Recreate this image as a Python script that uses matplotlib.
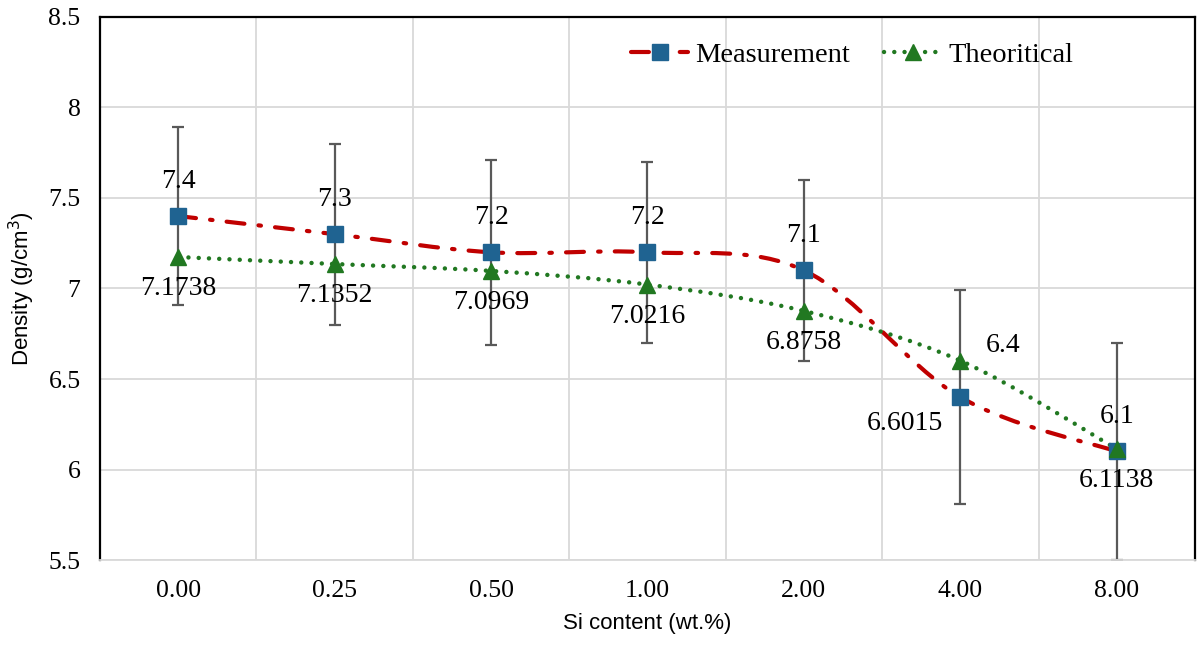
import numpy as np
import matplotlib
matplotlib.use("Agg")
import matplotlib.pyplot as plt
from matplotlib.path import Path
from matplotlib.patches import PathPatch
from matplotlib.lines import Line2D

## chart data
si_labels = ["0.00", "0.25", "0.50", "1.00", "2.00", "4.00", "8.00"]
measured = [7.4, 7.3, 7.2, 7.2, 7.1, 6.4, 6.1]
measured_err = [0.49, 0.5, 0.51, 0.5, 0.5, 0.59, 0.6]
theoretical = [7.1738, 7.1352, 7.0969, 7.0216, 6.8758, 6.6015, 6.1138]
y_ticks = [5.5, 6, 6.5, 7, 7.5, 8, 8.5]
y_ticklabels = ["5.5", "6", "6.5", "7", "7.5", "8", "8.5"]

red = "#C00000"
blue = "#1F6391"
green = "#217821"
serif = "Liberation Serif"
sans = "Liberation Sans"
dashdot = (0, (4.3, 3.4, 0.6, 3.4))
dots = (0, (0.01, 2.3))


## excel style smoothed line as bezier path
def smooth_path(xs, ys):
    pts = np.column_stack([xs, ys]).astype(float)
    verts = [pts[0]]
    codes = [Path.MOVETO]
    n = len(pts)
    for i in range(n - 1):
        p0 = pts[max(i - 1, 0)]
        p1 = pts[i]
        p2 = pts[i + 1]
        p3 = pts[min(i + 2, n - 1)]
        c1 = p1 + (p2 - p0) / 6.0
        c2 = p2 - (p3 - p1) / 6.0
        verts += [c1, c2, p2]
        codes += [Path.CURVE4] * 3
    return Path(verts, codes)


fig = plt.figure(figsize=(12, 6.49), dpi=100)
ax = fig.add_axes([0.0833, 0.137, 0.9125, 0.837])

x = np.arange(len(si_labels))

ax.errorbar(x, measured, yerr=measured_err, fmt="none", ecolor="#595959",
            elinewidth=1.6, capsize=4.5, capthick=1.6, zorder=2)

ax.add_patch(PathPatch(smooth_path(x, measured), fill=False, edgecolor=red,
                       lw=3, linestyle=dashdot, capstyle="round", zorder=3))
ax.add_patch(PathPatch(smooth_path(x, theoretical), fill=False, edgecolor=green,
                       lw=3.2, linestyle=dots, capstyle="round", zorder=3))

ax.plot(x, measured, linestyle="none", marker="s", ms=11, color=blue, zorder=4)
ax.plot(x, theoretical, linestyle="none", marker="^", ms=11, color=green, zorder=5)

## data labels
for i in range(len(x)):
    if i == 5:
        m_off, t_off = (31, 37), (-40, -45)
    else:
        m_off, t_off = (0, 25), (0, -23)
    ax.annotate(f"{measured[i]:g}", (x[i], measured[i]), xytext=m_off,
                textcoords="offset points", ha="center", va="center",
                fontsize=20, family=serif)
    ax.annotate(f"{theoretical[i]:.4f}", (x[i], theoretical[i]), xytext=t_off,
                textcoords="offset points", ha="center", va="center",
                fontsize=20, family=serif)

ax.set_xlim(-0.5, len(x) - 0.5)
ax.set_ylim(5.5, 8.5)
ax.set_xticks(x)
ax.set_xticklabels(si_labels, fontsize=18.5, family=serif)
ax.set_yticks(y_ticks)
ax.set_yticklabels(y_ticklabels, fontsize=18.5, family=serif)
ax.tick_params(length=0, pad=14)
ax.tick_params(axis="y", pad=14)

ax.set_xticks(np.arange(-0.5, len(x)), minor=True)
ax.tick_params(which="minor", length=0)
ax.grid(True, which="minor", axis="x", color="#D9D9D9", lw=1.3)
ax.grid(True, which="major", axis="y", color="#D9D9D9", lw=1.3)
ax.set_axisbelow(True)

for s in ["left", "right", "top"]:
    ax.spines[s].set_color("black")
    ax.spines[s].set_linewidth(1.6)
ax.spines["bottom"].set_color("#D9D9D9")
ax.spines["bottom"].set_linewidth(1.3)

ax.set_xlabel("Si content (wt.%)", fontsize=16, family=sans, labelpad=8)
ax.set_ylabel("Density (g/cm$^3$)", fontsize=16, family=sans, labelpad=8)

handles = [
    Line2D([], [], color=red, lw=3, linestyle=dashdot, dash_capstyle="round",
           marker="s", ms=11, mfc=blue, mec=blue),
    Line2D([], [], color=green, lw=3.2, linestyle=dots, dash_capstyle="round",
           marker="^", ms=11, mfc=green, mec=green),
]
ax.legend(handles, ["Measurement", "Theoritical"], ncol=2, frameon=False,
          loc="center right", bbox_to_anchor=(0.889, 0.930),
          borderaxespad=0, borderpad=0,
          prop={"family": serif, "size": 20.5}, handlelength=2.0,
          handletextpad=0.25, columnspacing=1.2)

fig.savefig("out.png", dpi=100)
